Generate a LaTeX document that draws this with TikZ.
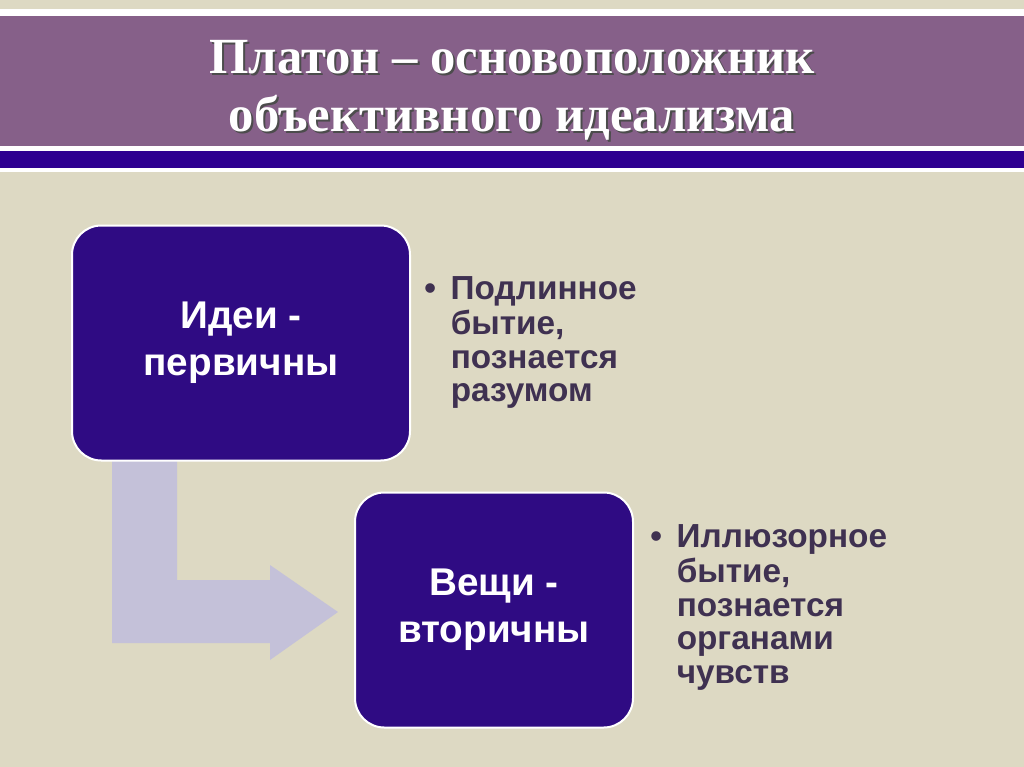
\documentclass[tikz,border=0pt]{standalone}
\usepackage{fontspec}
\setmainfont{Liberation Sans}
\newfontfamily\titlefont{Liberation Serif}
\begin{document}
\begin{tikzpicture}[x=0.75pt,y=-0.75pt]
\definecolor{bg}{HTML}{DDD9C3}
\definecolor{band}{HTML}{866089}
\definecolor{navy}{HTML}{2E0090}
\definecolor{boxc}{HTML}{2F0B83}
\definecolor{arr}{HTML}{C4C1D9}
\definecolor{txt}{HTML}{3F3151}
\tikzset{
 boxn/.style={draw=white,line width=1.5pt,fill=boxc,rounded corners=22pt,text=white,align=center,font=\bfseries\fontsize{29}{35}\selectfont,inner sep=0pt},
 bullet/.style={anchor=north west,text=txt,align=left,font=\bfseries\fontsize{25}{25.3}\selectfont,inner sep=0pt},
 ttl/.style={align=center,font=\titlefont\bfseries\fontsize{38}{43.5}\selectfont}
}
\useasboundingbox (0,0) rectangle (1024,767);
\fill[bg] (0,0) rectangle (1024,767);
\fill[white] (0,9) rectangle (1024,172);
\fill[band] (0,16) rectangle (1024,146);
\fill[navy] (0,151) rectangle (1024,168);
\node[ttl,text=black!70] at (514,92) {Платон – основоположник\\объективного идеализма};
\node[ttl,text=white] (title) at (512,90) {Платон – основоположник\\объективного идеализма};
\fill[arr] (112,455) -- (177,455) -- (177,580) -- (270,580) -- (270,565) -- (338,612) -- (270,660) -- (270,643) -- (112,643) -- cycle;
\node[boxn,minimum width=338pt*0.75,minimum height=235pt*0.75] (b1) at (241,343) {Идеи -\\первичны};
\node[boxn,minimum width=278pt*0.75,minimum height=235pt*0.75] (b2) at (494,610) {Вещи -\\вторичны};
\node[bullet] (t1) at (424,276) {•\ \,\begin{tabular}[t]{@{}l@{}}Подлинное\\бытие,\\познается\\разумом\end{tabular}};
\node[bullet] (t2) at (650,524) {•\ \,\begin{tabular}[t]{@{}l@{}}Иллюзорное\\бытие,\\познается\\органами\\чувств\end{tabular}};
\end{tikzpicture}
\end{document}
